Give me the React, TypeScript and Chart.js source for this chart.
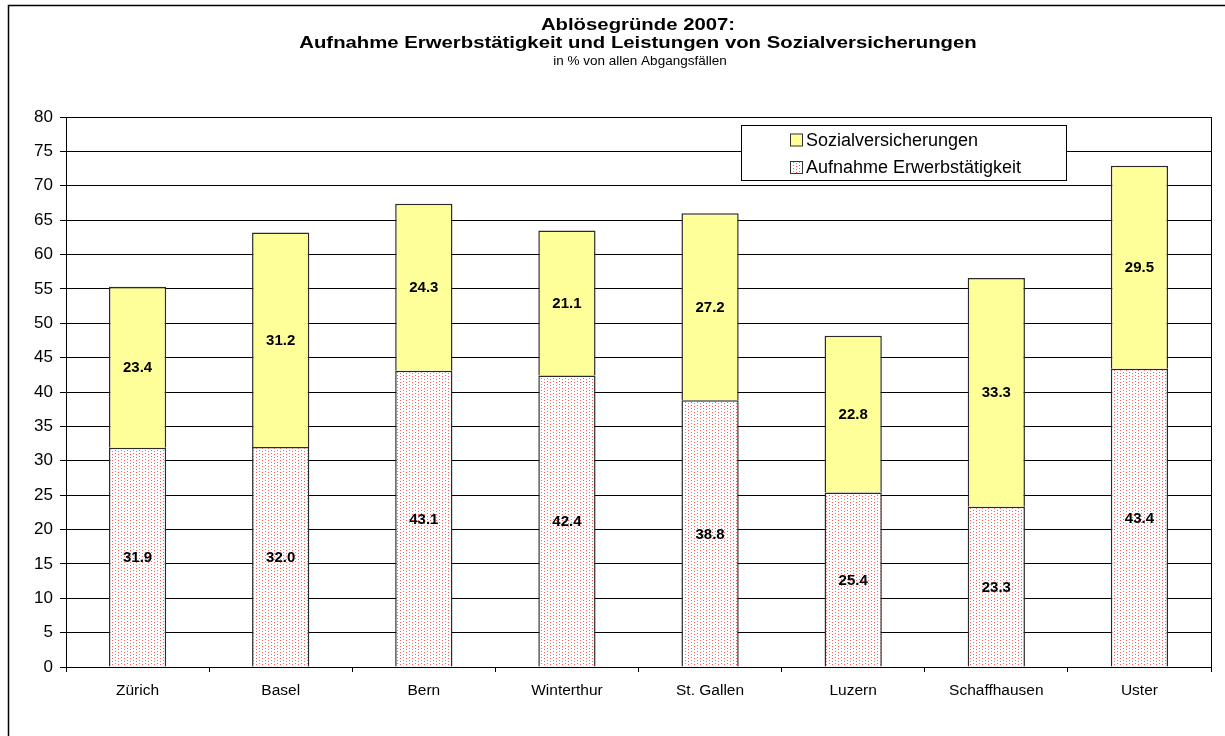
import React, { useEffect, useRef } from 'react';
import { Chart, registerables } from 'chart.js';

Chart.register(...registerables);

const categories = ['Zürich', 'Basel', 'Bern', 'Winterthur', 'St. Gallen', 'Luzern', 'Schaffhausen', 'Uster'];
const erwerbValues = [31.9, 32.0, 43.1, 42.4, 38.8, 25.4, 23.3, 43.4];
const sozialValues = [23.4, 31.2, 24.3, 21.1, 27.2, 22.8, 33.3, 29.5];
const seriesNames = ['Aufnahme Erwerbstätigkeit', 'Sozialversicherungen'];
const titleLines = ['Ablösegründe 2007:', 'Aufnahme Erwerbstätigkeit und Leistungen von Sozialversicherungen'];
const subtitleText = 'in % von allen Abgangsfällen';
const yMin = 0;
const yMax = 80;
const yStep = 5;

const FONT = '"Liberation Sans", Arial, Helvetica, sans-serif';
const YELLOW = '#FFFF99';
const DOT_RED = '#ff5a5a';
const BAR_BORDER = '#2a2a2a';

function makeDotPattern(): CanvasPattern | string {
  const c = document.createElement('canvas');
  c.width = 6;
  c.height = 3;
  const g = c.getContext('2d');
  if (!g) return '#ffd0d0';
  g.fillStyle = '#ffffff';
  g.fillRect(0, 0, 6, 3);
  g.fillStyle = DOT_RED;
  g.fillRect(1, 0, 1, 1);
  g.fillRect(4, 1, 1, 1);
  const p = g.createPattern(c, 'repeat');
  return p || '#ffd0d0';
}

export default function App() {
  const ref = useRef<HTMLCanvasElement | null>(null);

  useEffect(() => {
    document.body.style.margin = '0';
    const canvas = ref.current;
    if (!canvas) return;
    const pattern = makeDotPattern();

    const framePlugin = {
      id: 'frame',
      beforeDraw(chart: any) {
        const ctx = chart.ctx;
        ctx.save();
        ctx.fillStyle = '#ffffff';
        ctx.fillRect(0, 0, chart.width, chart.height);
        ctx.strokeStyle = '#000';
        ctx.lineWidth = 1.5;
        ctx.beginPath();
        ctx.moveTo(8.5, chart.height + 5);
        ctx.lineTo(8.5, 5.5);
        ctx.lineTo(chart.width + 5, 5.5);
        ctx.stroke();
        ctx.restore();
      },
    };

    const titlePlugin = {
      id: 'titles',
      afterDraw(chart: any) {
        const ctx = chart.ctx;
        const cx = 638;
        ctx.save();
        ctx.fillStyle = '#000';
        ctx.textAlign = 'center';
        ctx.textBaseline = 'alphabetic';
        ctx.font = `bold 16px ${FONT}`;
        const baselines = [30, 48];
        titleLines.forEach((t, i) => {
          ctx.save();
          ctx.translate(cx, baselines[i]);
          ctx.scale(1.27, 1);
          ctx.fillText(t, 0, 0);
          ctx.restore();
        });
        ctx.font = `13.5px ${FONT}`;
        ctx.fillText(subtitleText, 640, 65);
        ctx.restore();
      },
    };

    const borderPlugin = {
      id: 'plotBorder',
      afterDatasetsDraw(chart: any) {
        const { ctx, chartArea } = chart;
        ctx.save();
        ctx.strokeStyle = '#000';
        ctx.lineWidth = 1;
        ctx.beginPath();
        const x = Math.round(chartArea.right) + 0.5;
        ctx.moveTo(x, chartArea.top);
        ctx.lineTo(x, chartArea.bottom);
        ctx.stroke();
        ctx.restore();
      },
    };

    const labelPlugin = {
      id: 'valueLabels',
      afterDatasetsDraw(chart: any) {
        const ctx = chart.ctx;
        ctx.save();
        ctx.fillStyle = '#000';
        ctx.font = `bold 15px ${FONT}`;
        ctx.textAlign = 'center';
        ctx.textBaseline = 'middle';
        chart.data.datasets.forEach((ds: any, di: number) => {
          const meta = chart.getDatasetMeta(di);
          meta.data.forEach((el: any, i: number) => {
            const v = ds.data[i];
            const y = (el.y + el.base) / 2;
            ctx.fillText(Number(v).toFixed(1), el.x, y + 1);
          });
        });
        ctx.restore();
      },
    };

    const legendPlugin = {
      id: 'customLegend',
      afterDraw(chart: any) {
        const ctx = chart.ctx;
        ctx.save();
        ctx.fillStyle = '#fff';
        ctx.fillRect(741.5, 125.5, 325, 55);
        ctx.strokeStyle = '#000';
        ctx.lineWidth = 1;
        ctx.strokeRect(741.5, 125.5, 325, 55);
        const items = [
          { label: seriesNames[1], fill: YELLOW, y: 140 },
          { label: seriesNames[0], fill: pattern, y: 167.5 },
        ];
        ctx.font = `18px ${FONT}`;
        ctx.textAlign = 'left';
        ctx.textBaseline = 'middle';
        items.forEach((it) => {
          ctx.fillStyle = it.fill as any;
          ctx.fillRect(790, it.y - 6.5, 13, 13);
          ctx.strokeStyle = '#333';
          ctx.strokeRect(790.5, it.y - 6, 12, 12);
          ctx.fillStyle = '#000';
          ctx.fillText(it.label, 806, it.y + 1);
        });
        ctx.restore();
      },
    };

    const chart = new Chart(canvas, {
      type: 'bar',
      data: {
        labels: categories,
        datasets: [
          {
            label: seriesNames[0],
            data: erwerbValues,
            backgroundColor: pattern as any,
            borderColor: BAR_BORDER,
            borderWidth: 1.5,
            barPercentage: 0.4,
            categoryPercentage: 1.0,
          },
          {
            label: seriesNames[1],
            data: sozialValues,
            backgroundColor: YELLOW,
            borderColor: BAR_BORDER,
            borderWidth: 1.5,
            barPercentage: 0.4,
            categoryPercentage: 1.0,
          },
        ],
      },
      options: {
        animation: false,
        responsive: false,
        maintainAspectRatio: false,
        devicePixelRatio: 1,
        layout: { padding: { left: 0, right: 14, top: 117, bottom: 0 } },
        plugins: {
          legend: { display: false },
          title: { display: false },
          tooltip: { enabled: false },
        },
        scales: {
          x: {
            stacked: true,
            offset: true,
            grid: {
              display: true,
              offset: true,
              drawOnChartArea: false,
              drawTicks: true,
              tickLength: 5,
              color: '#000',
            },
            border: { display: true, color: '#000', width: 1 },
            ticks: {
              color: '#000',
              font: { family: FONT, size: 15.5 },
              padding: 9,
              maxRotation: 0,
              autoSkip: false,
            },
            afterFit: (s: any) => {
              s.height = 69;
            },
          },
          y: {
            stacked: true,
            min: yMin,
            max: yMax,
            ticks: {
              stepSize: yStep,
              color: '#000',
              font: { family: FONT, size: 17 },
              padding: 7,
            },
            grid: { color: '#000', tickLength: 6, drawTicks: true, lineWidth: 1 },
            border: { display: true, color: '#000', width: 1 },
            afterFit: (s: any) => {
              s.width = 66;
            },
          },
        },
      },
      plugins: [framePlugin, borderPlugin, labelPlugin, legendPlugin, titlePlugin],
    });

    return () => {
      chart.destroy();
    };
  }, []);

  return (
    <canvas
      ref={ref}
      width={1225}
      height={736}
      style={{ display: 'block', width: '1225px', height: '736px' }}
    />
  );
}
